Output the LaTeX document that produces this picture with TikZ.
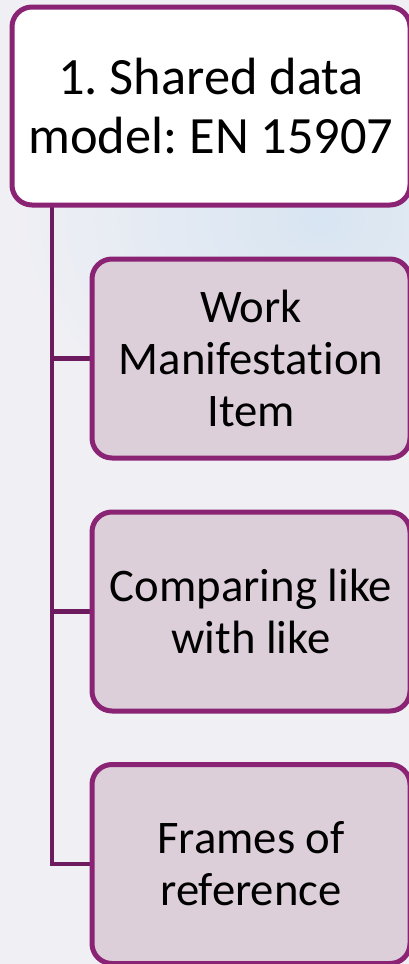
\documentclass[tikz,border=0pt]{standalone}
\usepackage{fontspec}
\setmainfont{Carlito}[Ligatures=NoCommon]
\frenchspacing
\usetikzlibrary{backgrounds}
\definecolor{bordc}{HTML}{8A2374}
\definecolor{connc}{HTML}{6D1B5E}
\definecolor{childfill}{HTML}{DCCFDA}
\definecolor{bgc}{HTML}{EFEFF4}
\definecolor{bgblue}{HTML}{D8E5F2}
\tikzset{
  box/.style={draw=bordc, line width=5pt, rounded corners=20pt, outer sep=0pt, inner sep=0pt, align=center, text=black},
  topbox/.style={box, fill=white, minimum width=398pt, minimum height=198pt, font=\fontsize{52.4}{59}\selectfont},
  childbox/.style={box, fill=childfill, minimum width=318pt, minimum height=199pt, font=\fontsize{46.7}{52}\selectfont},
  conn/.style={draw=connc, line width=4.5pt}
}
\begin{document}
\begin{tikzpicture}[x=1pt,y=-1pt]
\useasboundingbox (0,0) rectangle (409,964);
\clip (0,0) rectangle (409,964);
\node[topbox] (top) at (211,106) {1. Shared data\\model: EN 15907};
\node[childbox] (b1) at (251,358.5) {Work\\Manifesta\kern0pt tion\\Item};
\node[childbox] (b2) at (251,611.5) {Comparing like\\with like};
\node[childbox] (b3) at (251,864) {Frames of\\reference};
\begin{scope}[on background layer]
  \fill[bgc] (0,0) rectangle (409,964);
  \shade[inner color=bgblue, outer color=bgc] (320,220) ellipse (300 and 220);
  \draw[conn] ([xshift=40pt]top.south west) |- (b3.west);
  \draw[conn] ([xshift=40pt]top.south west |- b1.west) -- (b1.west);
  \draw[conn] ([xshift=40pt]top.south west |- b2.west) -- (b2.west);
\end{scope}
\end{tikzpicture}
\end{document}
